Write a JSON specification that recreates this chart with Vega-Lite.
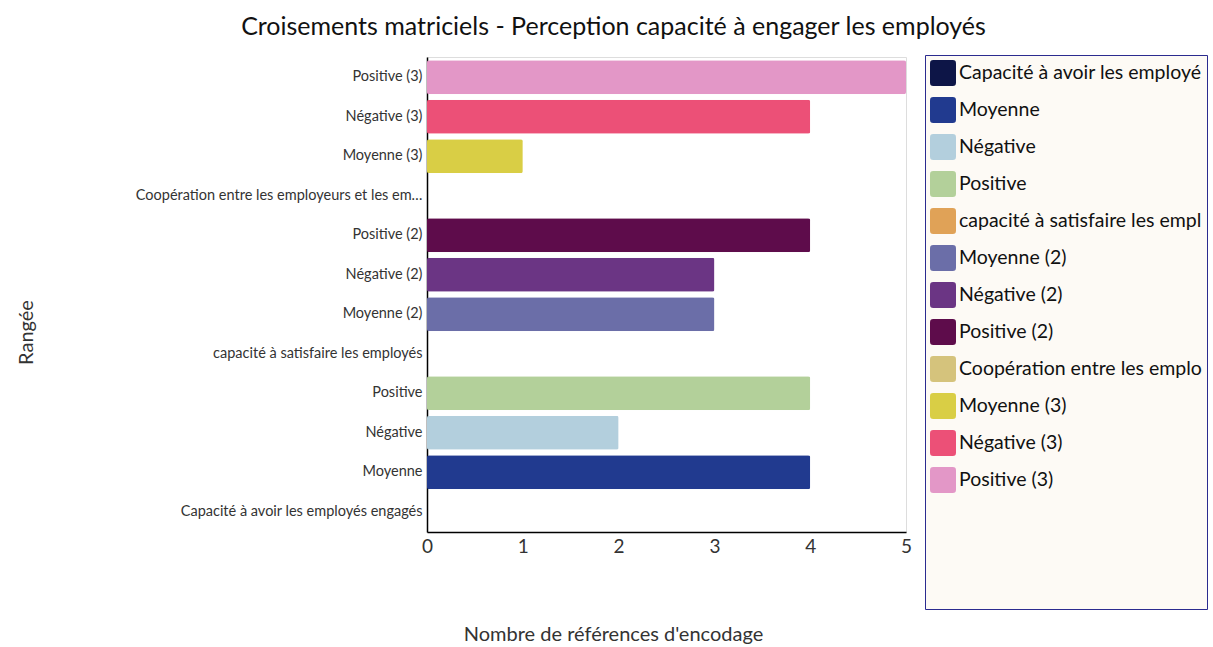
{
  "$schema": "https://vega.github.io/schema/vega-lite/v6.json",
  "width": 479,
  "height": 475,
  "autosize": "none",
  "padding": {"left": 427, "top": 57, "right": 307, "bottom": 115},
  "background": "white",
  "title": {
    "text": "Croisements matriciels - Perception capacité à engager les employés",
    "font": "Lato",
    "fontSize": 25,
    "fontWeight": "normal",
    "color": "#111111",
    "anchor": "middle",
    "dx": -53,
    "offset": 15
  },
  "data": {
    "values": [
      {"rangee": "Positive (3)", "nombre": 5},
      {"rangee": "Négative (3)", "nombre": 4},
      {"rangee": "Moyenne (3)", "nombre": 1},
      {"rangee": "Coopération entre les employeurs et les employés", "nombre": 0},
      {"rangee": "Positive (2)", "nombre": 4},
      {"rangee": "Négative (2)", "nombre": 3},
      {"rangee": "Moyenne (2)", "nombre": 3},
      {"rangee": "capacité à satisfaire les employés", "nombre": 0},
      {"rangee": "Positive", "nombre": 4},
      {"rangee": "Négative", "nombre": 2},
      {"rangee": "Moyenne", "nombre": 4},
      {"rangee": "Capacité à avoir les employés engagés", "nombre": 0}
    ]
  },
  "mark": {"type": "bar", "cornerRadius": 2},
  "encoding": {
    "y": {
      "field": "rangee",
      "type": "nominal",
      "sort": null,
      "title": "Rangée",
      "scale": {"paddingInner": 0.14, "paddingOuter": 0.08},
      "axis": {
        "domainColor": "#000000",
        "domainWidth": 1.5,
        "ticks": false,
        "labelFont": "Lato",
        "labelFontSize": 14.5,
        "labelColor": "#333333",
        "labelPadding": 5,
        "labelLimit": 293,
        "titleFont": "Lato",
        "titleFontSize": 20,
        "titleFontWeight": "normal",
        "titleColor": "#333333",
        "titleX": -391,
        "titleY": 275,
        "titleAngle": -90
      }
    },
    "x": {
      "field": "nombre",
      "type": "quantitative",
      "title": "Nombre de références d'encodage",
      "scale": {"domain": [0, 5], "nice": false},
      "axis": {
        "values": [0, 1, 2, 3, 4, 5],
        "grid": false,
        "ticks": false,
        "domainColor": "#000000",
        "domainWidth": 1.5,
        "labelFlush": false,
        "labelFont": "Lato",
        "labelFontSize": 19,
        "labelColor": "#333333",
        "labelPadding": 5,
        "titleFont": "Lato",
        "titleFontSize": 20,
        "titleFontWeight": "normal",
        "titleColor": "#333333",
        "titleX": 186,
        "titlePadding": 68
      }
    },
    "color": {
      "field": "rangee",
      "type": "nominal",
      "scale": {
        "domain": [
          "Capacité à avoir les employés engagés",
          "Moyenne",
          "Négative",
          "Positive",
          "capacité à satisfaire les employés",
          "Moyenne (2)",
          "Négative (2)",
          "Positive (2)",
          "Coopération entre les employeurs et les employés",
          "Moyenne (3)",
          "Négative (3)",
          "Positive (3)"
        ],
        "range": [
          "#0d1547",
          "#213a8f",
          "#b3cfdd",
          "#b3d09a",
          "#e0a257",
          "#6b6ea8",
          "#6b3584",
          "#5e0c4b",
          "#d5c37c",
          "#d9ce45",
          "#ec5077",
          "#e397c7"
        ]
      },
      "legend": {
        "orient": "none",
        "legendX": 498,
        "legendY": -2,
        "title": " ",
        "titleOrient": "bottom",
        "titleFontSize": 1,
        "titlePadding": 110,
        "padding": 5,
        "fillColor": "#fdfaf5",
        "strokeColor": "#2b2b8f",
        "symbolType": "M-1,-0.75Q-1,-1,-0.75,-1L0.75,-1Q1,-1,1,-0.75L1,0.75Q1,1,0.75,1L-0.75,1Q-1,1,-1,0.75Z",
        "symbolSize": 676,
        "symbolStrokeWidth": 0,
        "symbolOpacity": 1,
        "labelFont": "Lato",
        "labelFontSize": 19.5,
        "labelColor": "#111111",
        "labelOffset": 3,
        "labelLimit": 244,
        "rowPadding": 11,
        "encode": {
          "labels": {"update": {"ellipsis": {"value": "\u200b"}}}
        }
      }
    }
  }
}
